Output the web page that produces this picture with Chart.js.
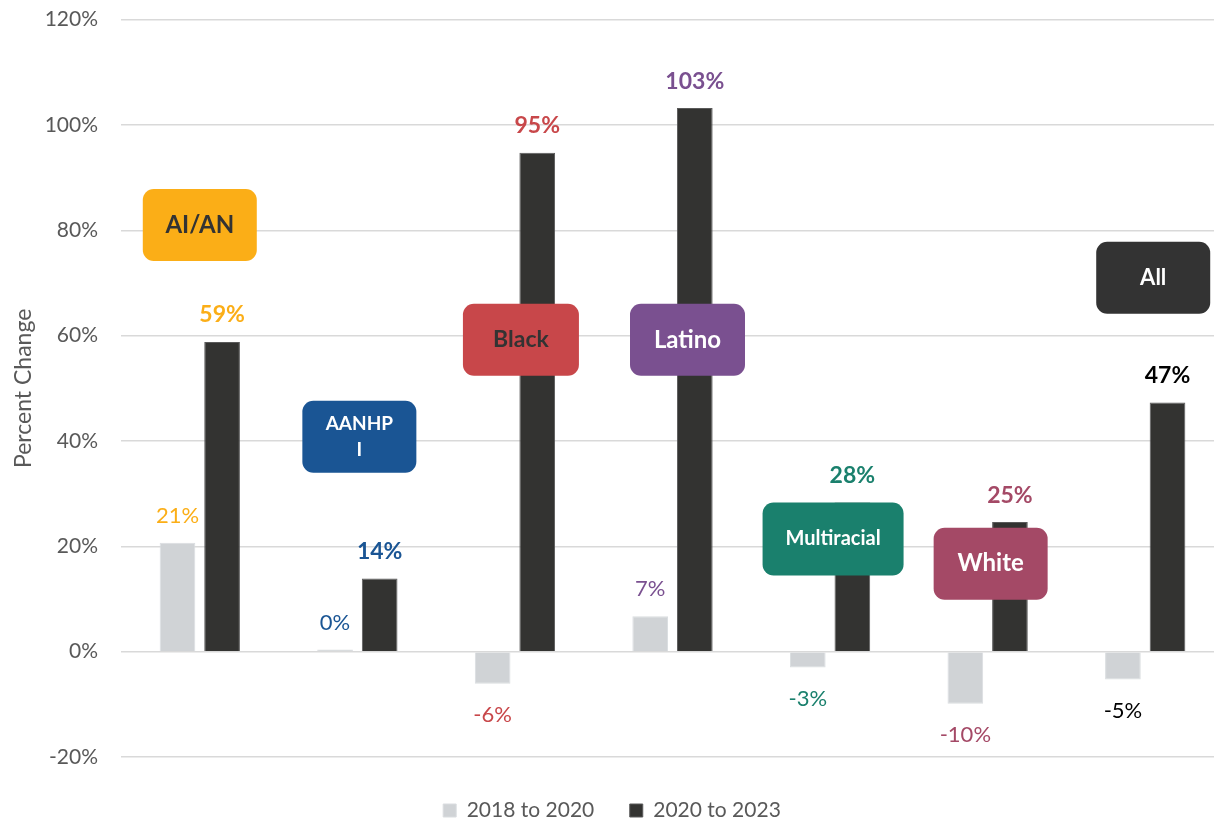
<!DOCTYPE html>
<html lang="en">
  <head>
    <meta charset="UTF-8" />
    <title>Percent Change</title>
    <style>
      html, body { margin: 0; padding: 0; background: #fff; overflow: hidden; }
      .wrap { width: 1224px; height: 847px; position: relative; margin-top: -16px; }
    </style>
  </head>
  <body>
    <div class="wrap">
      <canvas id="myChart"></canvas>
    </div>
  </body>
  <script src="https://cdn.jsdelivr.net/npm/chart.js@4.4.0/dist/chart.umd.min.js"></script>
  <script>
    // data
    const groups = ["AI/AN", "AANHPI", "Black", "Latino", "Multiracial", "White", "All"];
    const boxText = [["AI/AN"], ["AANHP", "I"], ["Black"], ["Latino"], ["Multiracial"], ["White"], ["All"]];
    const change2018to2020 = [20.7, 0.4, -6.1, 6.7, -3.0, -9.9, -5.3];
    const change2020to2023 = [58.8, 13.9, 94.7, 103.2, 28.3, 24.6, 47.3];
    const seriesNames = ["2018 to 2020", "2020 to 2023"];
    const yMin = -20, yMax = 120, yStep = 20;

    // colours per group
    const groupColors = ["#FBAE17", "#1A5594", "#C8474A", "#7A5090", "#1A806D", "#A44966", "#333333"];
    const boxTextColors = ["#333333", "#ffffff", "#333333", "#ffffff", "#ffffff", "#ffffff", "#ffffff"];
    const valueColors = ["#FBAE17", "#1A5594", "#C8474A", "#7A5090", "#1A806D", "#A44966", "#000000"];

    // where the name boxes sit (y in axis units, dx in px from group centre)
    const boxPlace = [
      { y: 81, dx: 0, w: 114, h: 72, size: 24 },
      { y: 40.8, dx: 2, w: 114, h: 72, size: 19 },
      { y: 59.2, dx: 6, w: 116, h: 72, size: 23 },
      { y: 59.2, dx: 15, w: 115, h: 72, size: 24 },
      { y: 21.4, dx: 3, w: 141, h: 73, size: 20 },
      { y: 16.7, dx: 3, w: 114, h: 72, size: 24 },
      { y: 71, dx: 8, w: 114, h: 72, size: 22 },
    ];

    const FONT = "Lato, 'Open Sans', sans-serif";

    const labelPlugin = {
      id: "barLabels",
      afterDatasetsDraw(chart) {
        const ctx = chart.ctx;
        const xs = chart.scales.x;
        const ys = chart.scales.y;
        // name boxes
        groups.forEach((g, i) => {
          const b = boxPlace[i];
          const cx = xs.getPixelForValue(i) + b.dx;
          const cy = ys.getPixelForValue(b.y);
          ctx.save();
          ctx.fillStyle = groupColors[i];
          ctx.beginPath();
          ctx.roundRect(cx - b.w / 2, cy - b.h / 2, b.w, b.h, 11);
          ctx.fill();
          ctx.fillStyle = boxTextColors[i];
          ctx.font = "bold " + b.size + "px " + FONT;
          ctx.textAlign = "center";
          ctx.textBaseline = "middle";
          const lines = boxText[i];
          const lh = b.size * 1.35;
          lines.forEach((t, k) => {
            ctx.fillText(t, cx, cy + (k - (lines.length - 1) / 2) * lh);
          });
          ctx.restore();
        });
        // value labels
        chart.data.datasets.forEach((ds, di) => {
          const meta = chart.getDatasetMeta(di);
          meta.data.forEach((bar, i) => {
            const v = ds.data[i];
            const txt = Math.round(v) + "%";
            ctx.save();
            ctx.fillStyle = valueColors[i];
            ctx.font = (di === 1 ? "bold 23px " : "22px ") + FONT;
            ctx.textAlign = "center";
            ctx.textBaseline = "middle";
            const yy = v >= 0 ? bar.y - 27 : bar.y + 31;
            ctx.fillText(txt, bar.x, yy);
            ctx.restore();
          });
        });
      },
    };

    const myChart = new Chart(document.getElementById("myChart"), {
      type: "bar",
      data: {
        labels: groups,
        datasets: [
          {
            label: seriesNames[0],
            data: change2018to2020,
            backgroundColor: "#D0D3D6",
            borderColor: "#DADDE0",
            borderWidth: 1,
            categoryPercentage: 0.566,
            barPercentage: 0.8,
          },
          {
            label: seriesNames[1],
            data: change2020to2023,
            backgroundColor: "#333331",
            borderColor: "#5a5a5a",
            borderWidth: 1,
            categoryPercentage: 0.566,
            barPercentage: 0.8,
          },
        ],
      },
      options: {
        responsive: true,
        maintainAspectRatio: false,
        animation: false,
        plugins: {
          tooltip: { enabled: false },
          legend: {
            position: "bottom",
            labels: {
              color: "#595959",
              font: { family: FONT, size: 21 },
              boxWidth: 13,
              boxHeight: 13,
              padding: 14,
              useBorderRadius: false,
              generateLabels(chart) {
                const items = Chart.defaults.plugins.legend.labels.generateLabels(chart);
                // a bit more room between the two entries
                items[0].text = items[0].text + "    ";
                return items;
              },
            },
          },
        },
        scales: {
          x: {
            ticks: { display: false },
            grid: { display: false },
            border: { display: false },
            afterFit(scale) {
              scale.height = 29;
            },
          },
          y: {
            min: yMin,
            max: yMax,
            ticks: {
              stepSize: yStep,
              color: "#595959",
              font: { family: FONT, size: 21 },
              padding: 23,
              callback: (v) => v + "%",
            },
            grid: { color: "#D9D9D9", lineWidth: 1.5, drawTicks: false },
            border: { display: false },
            title: {
              display: true,
              text: "Percent Change",
              color: "#595959",
              font: { family: FONT, size: 23 },
              padding: { top: 10, bottom: 0 },
            },
            afterFit(scale) {
              scale.width = 121;
            },
          },
        },
      },
      plugins: [labelPlugin],
    });
  </script>
</html>
